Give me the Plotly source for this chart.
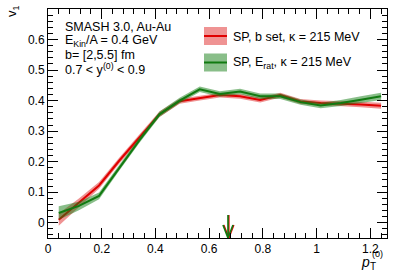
import plotly.graph_objects as go

# ---------------- data ----------------
pt = [0.04, 0.115, 0.19, 0.265, 0.34, 0.415, 0.49, 0.565, 0.64, 0.715,
      0.79, 0.865, 0.94, 1.015, 1.09, 1.165, 1.24]

v1_bset = [0.010, 0.065, 0.122, 0.203, 0.280, 0.355, 0.398, 0.408, 0.418, 0.414,
           0.402, 0.418, 0.397, 0.392, 0.390, 0.387, 0.383]
err_bset = [0.020, 0.014, 0.011, 0.010, 0.009, 0.009, 0.008, 0.008, 0.008, 0.008,
            0.008, 0.008, 0.008, 0.008, 0.009, 0.009, 0.010]

v1_erat = [0.032, 0.055, 0.088, 0.180, 0.270, 0.355, 0.400, 0.437, 0.422, 0.430,
           0.414, 0.414, 0.395, 0.384, 0.392, 0.403, 0.414]
err_erat = [0.022, 0.014, 0.011, 0.010, 0.009, 0.009, 0.009, 0.009, 0.009, 0.009,
            0.009, 0.009, 0.009, 0.009, 0.010, 0.011, 0.012]

arrow_pt = 0.67

series_names = ["SP, b set, κ = 215 MeV", "SP, E<sub>rat</sub>, κ = 215 MeV"]
info_lines = ["SMASH 3.0, Au-Au",
              "E<sub>Kin</sub>/A = 0.4 GeV",
              "b= [2,5.5] fm",
              "0.7 &lt; y<sup>(0)</sup> &lt; 0.9"]

x_range = [0, 1.262]
y_range = [-0.05, 0.7]

# ---------------- styles ----------------
RED = "#e00000"
RED_BAND = "rgba(224,40,40,0.5)"
GREEN = "#117a11"
GREEN_BAND = "rgba(20,125,20,0.5)"
FONT = "Liberation Sans, Arial, sans-serif"

W, H = 399, 272
ML, MR, MT, MB = 48, 12, 9, 34
PW, PH = W - ML - MR, H - MT - MB


def px(xp):
    return (xp - ML) / PW


def py(yp):
    return 1 - (yp - MT) / PH


fig = go.Figure()

for y, e, lc, bc in [(v1_bset, err_bset, RED, RED_BAND),
                     (v1_erat, err_erat, GREEN, GREEN_BAND)]:
    up = [a + b for a, b in zip(y, e)]
    lo = [a - b for a, b in zip(y, e)]
    fig.add_trace(go.Scatter(x=pt + pt[::-1], y=up + lo[::-1], fill="toself",
                             fillcolor=bc, line=dict(width=0), mode="lines",
                             hoverinfo="skip", showlegend=False))
    fig.add_trace(go.Scatter(x=pt, y=y, mode="lines", line=dict(color=lc, width=2),
                             showlegend=False))

# arrows marking a pT value
yscale = (y_range[1] - y_range[0]) / PH
xscale = (x_range[1] - x_range[0]) / PW
for dx, col in [(0.8, RED), (0.0, GREEN)]:
    xa = arrow_pt + dx * xscale
    tip = y_range[0]
    top = tip + 23 * yscale
    head = tip + 13 * yscale
    hw = 5 * xscale
    fig.add_trace(go.Scatter(x=[xa, xa, None, xa - hw, xa, xa + hw],
                             y=[top, tip, None, head, tip, head],
                             mode="lines", line=dict(color=col, width=1.6),
                             showlegend=False, hoverinfo="skip"))

# info text
for i, t in enumerate(info_lines):
    fig.add_annotation(xref="paper", yref="paper", x=px(63), y=py(26.5 + 14.2 * i),
                       text=t, showarrow=False, xanchor="left", yanchor="middle",
                       font=dict(family=FONT, size=12.5, color="black"))

# manual legend
for i, (name, lc, bc) in enumerate(zip(series_names, [RED, GREEN], [RED_BAND, GREEN_BAND])):
    yc = 36 + 26.5 * i
    fig.add_shape(type="rect", xref="paper", yref="paper",
                  x0=px(204), x1=px(227), y0=py(yc - 9), y1=py(yc + 9),
                  fillcolor=bc, line=dict(width=0))
    fig.add_shape(type="line", xref="paper", yref="paper",
                  x0=px(204), x1=px(227), y0=py(yc), y1=py(yc),
                  line=dict(color=lc, width=2))
    fig.add_annotation(xref="paper", yref="paper", x=px(231), y=py(yc + 0.5),
                       text=name, showarrow=False, xanchor="left", yanchor="middle",
                       font=dict(family=FONT, size=12.5, color="black"))

# axis titles
fig.add_annotation(xref="paper", yref="paper", x=px(12), y=py(11),
                   text="v<sub>1</sub>", textangle=-90, showarrow=False,
                   xanchor="center", yanchor="middle",
                   font=dict(family=FONT, size=13, color="black"))
fig.add_annotation(xref="paper", yref="paper", x=px(365), y=py(262),
                   text="<i>p</i>", showarrow=False, xanchor="center", yanchor="middle",
                   borderpad=0, font=dict(family=FONT, size=14, color="black"))
fig.add_annotation(xref="paper", yref="paper", x=px(373), y=py(266.5),
                   text="T", showarrow=False, xanchor="center", yanchor="middle",
                   borderpad=0, font=dict(family=FONT, size=10, color="black"))
fig.add_annotation(xref="paper", yref="paper", x=px(377), y=py(254.5),
                   text="(0)", showarrow=False, xanchor="center", yanchor="middle",
                   borderpad=0, font=dict(family=FONT, size=9, color="black"))

axis_common = dict(showline=True, linecolor="black", linewidth=1, mirror="ticks",
                   ticks="inside", ticklen=10, tickwidth=1, tickcolor="black",
                   showgrid=False, zeroline=False,
                   tickfont=dict(family=FONT, size=12, color="black"))

fig.update_xaxes(range=x_range, dtick=0.2, tick0=0,
                 minor=dict(ticks="inside", ticklen=5, dtick=0.04, tickcolor="black"),
                 tickvals=[0, 0.2, 0.4, 0.6, 0.8, 1.0, 1.2],
                 ticktext=["0", "0.2", "0.4", "0.6", "0.8", "1", "1.2"],
                 **axis_common)
fig.update_yaxes(range=y_range, dtick=0.1, tick0=0,
                 minor=dict(ticks="inside", ticklen=5, dtick=0.02, tickcolor="black"),
                 tickvals=[0, 0.1, 0.2, 0.3, 0.4, 0.5, 0.6],
                 ticktext=["0", "0.1", "0.2", "0.3", "0.4", "0.5", "0.6"],
                 **axis_common)

fig.update_layout(width=W, height=H, margin=dict(l=ML, r=MR, t=MT, b=MB),
                  paper_bgcolor="white", plot_bgcolor="white", showlegend=False,
                  font=dict(family=FONT, color="black"))

fig.write_html("out.html", config={"displayModeBar": False},
               post_script="document.body.style.margin='0';document.body.style.overflow='hidden';")
